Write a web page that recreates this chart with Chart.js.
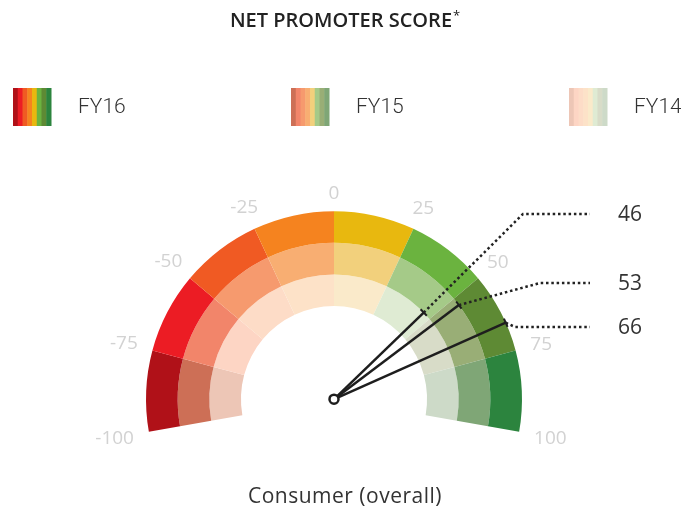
<!DOCTYPE html>
<html>
<head>
<meta charset="utf-8">
<script src="https://cdn.jsdelivr.net/npm/chart.js@4/dist/chart.umd.min.js"></script>
<style>
  html, body { margin: 0; padding: 0; background: #fff; }
  #wrap { position: relative; width: 681px; height: 510px; }
</style>
</head>
<body>
<div id="wrap"><canvas id="gauge" width="681" height="510"></canvas></div>
<script>
let chartTitle = 'NET PROMOTER SCORE';
let categoryLabel = 'Consumer (overall)';
let years = ['FY16', 'FY15', 'FY14'];
let scores = [66, 53, 46];
let tickValues = [-100, -75, -50, -25, 0, 25, 50, 75, 100];

let colorsFY16 = ['#B01118', '#EC1C24', '#F05A23', '#F5831F', '#E8B80F', '#6BB33F', '#5E8A34', '#2C843E'];
let colorsFY15 = ['#CD6F56', '#F2856A', '#F69A6E', '#F8AE72', '#F2D07C', '#A5CA88', '#99AE76', '#7FA676'];
let colorsFY14 = ['#EDC6B6', '#FDD5C4', '#FDDCC7', '#FDE2C8', '#FAEACA', '#DFEBD3', '#D8DCC8', '#CDDAC8'];

// each band is the gap between two neighbouring ticks
let bands = tickValues.slice(1).map((t, i) => t - tickValues[i]);

let sans = '"Open Sans", "DejaVu Sans", sans-serif';

let gaugeExtras = {
    id: 'gaugeExtras',
    afterDraw(chart, args, opts) {
        let ctx = chart.ctx;
        let outer = chart.getDatasetMeta(0).data;
        let cx = outer[0].x, cy = outer[0].y;
        let a0 = outer[0].startAngle, a1 = outer[outer.length - 1].endAngle;
        let min = tickValues[0], max = tickValues[tickValues.length - 1];
        let angleOf = v => a0 + (v - min) / (max - min) * (a1 - a0);

        ctx.save();

        // title
        ctx.fillStyle = '#222';
        ctx.font = '600 20px ' + sans;
        ctx.textAlign = 'center';
        ctx.textBaseline = 'middle';
        let tw = ctx.measureText(chartTitle).width;
        ctx.fillText(chartTitle, 341, 21);
        ctx.font = '13px ' + sans;
        ctx.textAlign = 'left';
        ctx.fillText('*', 341 + tw / 2 + 1, 16);

        // legend with striped swatches
        chart.data.datasets.forEach((ds, i) => {
            let x = 13 + i * 278, y = 88, w = 38;
            let n = ds.backgroundColor.length;
            ds.backgroundColor.forEach((c, k) => {
                ctx.fillStyle = c;
                ctx.fillRect(x + k * w / n, y, w / n + 0.5, w);
            });
            ctx.fillStyle = '#333';
            ctx.font = '300 21px Roboto, ' + sans;
            ctx.textAlign = 'left';
            ctx.textBaseline = 'middle';
            ctx.fillText(ds.label, x + 65, y + 20);
        });

        // tick labels around the arc
        ctx.fillStyle = '#d2d2d2';
        ctx.font = '19px ' + sans;
        ctx.textAlign = 'center';
        ctx.textBaseline = 'middle';
        let rBase = outer[0].outerRadius + 15;
        tickValues.forEach(v => {
            let a = angleOf(v);
            let hw = ctx.measureText(String(v)).width / 2;
            let r = rBase + Math.abs(Math.cos(a)) * hw + Math.abs(Math.sin(a)) * 4;
            ctx.fillText(String(v), cx + r * Math.cos(a), cy + r * Math.sin(a) + 1);
        });

        // needles, leaders and value labels
        let pivot = 4.5;
        scores.forEach((v, i) => {
            let arc = chart.getDatasetMeta(i).data[0];
            let a = angleOf(v);
            let len = arc.outerRadius;
            let ex = cx + len * Math.cos(a), ey = cy + len * Math.sin(a);

            ctx.strokeStyle = '#1e1e1e';
            ctx.lineWidth = 2.5;
            ctx.setLineDash([]);
            ctx.beginPath();
            ctx.moveTo(cx + pivot * Math.cos(a), cy + pivot * Math.sin(a));
            ctx.lineTo(ex, ey);
            ctx.stroke();
            // end cap
            let px = -Math.sin(a) * 4.5, py = Math.cos(a) * 4.5;
            ctx.lineWidth = 2;
            ctx.beginPath();
            ctx.moveTo(ex - px, ey - py);
            ctx.lineTo(ex + px, ey + py);
            ctx.stroke();

            // dotted leader
            let ly = opts.labelY[i];
            ctx.strokeStyle = '#222';
            ctx.lineWidth = 2.5;
            ctx.setLineDash([2.5, 2.8]);
            ctx.beginPath();
            ctx.moveTo(ex, ey);
            ctx.lineTo(opts.elbowX[i], ly);
            ctx.lineTo(590, ly);
            ctx.stroke();
            ctx.setLineDash([]);

            ctx.fillStyle = '#333';
            ctx.font = '21px ' + sans;
            ctx.textAlign = 'left';
            ctx.textBaseline = 'middle';
            ctx.fillText(String(v), 618, ly + 1);
        });

        // pivot
        ctx.lineWidth = 2.5;
        ctx.strokeStyle = '#1e1e1e';
        ctx.fillStyle = '#fff';
        ctx.beginPath();
        ctx.arc(cx, cy, pivot, 0, Math.PI * 2);
        ctx.fill();
        ctx.stroke();

        // category label
        ctx.fillStyle = '#333';
        ctx.font = '21px ' + sans;
        ctx.letterSpacing = '0.5px';
        ctx.textAlign = 'center';
        ctx.textBaseline = 'middle';
        ctx.fillText(categoryLabel, 345, 497);

        ctx.restore();
    }
};

let gauge = new Chart(document.getElementById('gauge'), {
    type: 'doughnut',
    data: {
        labels: bands.map((b, i) => tickValues[i] + ' to ' + tickValues[i + 1]),
        datasets: [
            { label: years[0], data: bands, backgroundColor: colorsFY16, borderWidth: 0 },
            { label: years[1], data: bands, backgroundColor: colorsFY15, borderWidth: 0 },
            { label: years[2], data: bands, backgroundColor: colorsFY14, borderWidth: 0 }
        ]
    },
    options: {
        responsive: false,
        animation: false,
        rotation: -100,
        circumference: 200,
        cutout: '49.5%',
        layout: { padding: { left: 146, right: 159, top: 211, bottom: 78 } },
        plugins: {
            legend: { display: false },
            tooltip: { enabled: false },
            gaugeExtras: { labelY: [327, 283, 214], elbowX: [515, 540, 523] }
        }
    },
    plugins: [gaugeExtras]
});
</script>
</body>
</html>
